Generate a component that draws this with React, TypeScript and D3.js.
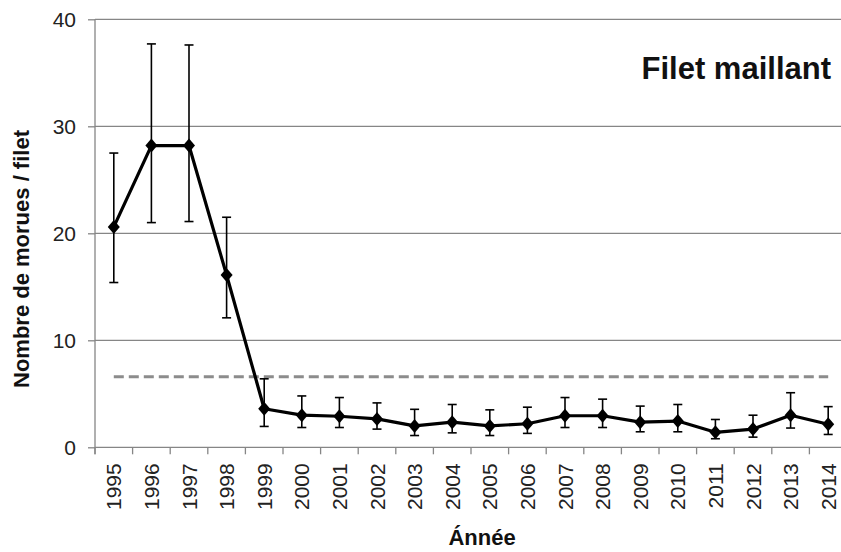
import React, { useEffect, useRef } from "react";
import * as d3 from "d3";

// année d'échantillonnage
const years = [
  "1995", "1996", "1997", "1998", "1999", "2000", "2001", "2002", "2003", "2004",
  "2005", "2006", "2007", "2008", "2009", "2010", "2011", "2012", "2013", "2014",
];
// moyenne de morues par filet
const means = [
  20.6, 28.2, 28.2, 16.1, 3.6, 3.0, 2.9, 2.65, 2.0, 2.35,
  2.0, 2.2, 2.95, 2.95, 2.35, 2.45, 1.4, 1.7, 3.0, 2.15,
];
// bornes des barres d'erreur
const upper = [
  27.5, 37.7, 37.6, 21.5, 6.4, 4.8, 4.65, 4.15, 3.55, 4.0,
  3.5, 3.75, 4.65, 4.5, 3.85, 4.0, 2.6, 3.0, 5.1, 3.8,
];
const lower = [
  15.4, 21.0, 21.1, 12.1, 1.95, 1.85, 1.85, 1.7, 1.1, 1.35,
  1.1, 1.3, 1.85, 1.85, 1.45, 1.45, 0.8, 0.95, 1.8, 1.2,
];
const yTicks = [0, 10, 20, 30, 40];
const reference = 6.6;

export default function App() {
  const ref = useRef<SVGSVGElement>(null);

  useEffect(() => {
    const svg = d3.select(ref.current);
    svg.selectAll("*").remove();

    const left = 95;
    const right = 847;
    const top = 19.3;
    const bottom = 447.3;
    const font = "'Liberation Sans', Arial, sans-serif";

    const x = d3.scaleBand().domain(years).range([left, right]).padding(0);
    const y = d3.scaleLinear().domain([0, 40]).range([bottom, top]);
    const cx = (yr: string) => (x(yr) as number) + x.bandwidth() / 2;

    // grille horizontale
    svg
      .append("g")
      .selectAll("line")
      .data(yTicks.filter(t => t > 0))
      .enter()
      .append("line")
      .attr("x1", left)
      .attr("x2", right)
      .attr("y1", d => y(d))
      .attr("y2", d => y(d))
      .attr("stroke", "#868686")
      .attr("stroke-width", 1.3);

    // axe Y
    const yAxis = svg
      .append("g")
      .attr("transform", `translate(${left},0)`)
      .call(
        d3.axisLeft(y).tickValues(yTicks).tickSize(7).tickPadding(12).tickFormat(d3.format("d"))
      );
    yAxis.select(".domain").attr("stroke", "#868686").attr("stroke-width", 1.3).attr("d", `M0,${top}V${bottom + 7}`);
    yAxis.selectAll(".tick line").attr("stroke", "#868686").attr("stroke-width", 1.3);
    yAxis
      .selectAll("text")
      .attr("font-family", font)
      .attr("font-size", 21)
      .attr("fill", "#222");

    // axe X : traits entre les années
    const xAxis = svg.append("g").attr("transform", `translate(0,${bottom})`);
    xAxis
      .append("line")
      .attr("x1", left)
      .attr("x2", right)
      .attr("stroke", "#868686")
      .attr("stroke-width", 1.3);
    xAxis
      .selectAll("line.tk")
      .data(years)
      .enter()
      .append("line")
      .attr("class", "tk")
      .attr("x1", d => x(d) as number)
      .attr("x2", d => x(d) as number)
      .attr("y1", 0)
      .attr("y2", 7)
      .attr("stroke", "#868686")
      .attr("stroke-width", 1.3);
    xAxis
      .selectAll("text")
      .data(years)
      .enter()
      .append("text")
      .attr("transform", d => `translate(${cx(d)},16) rotate(-90)`)
      .attr("text-anchor", "end")
      .attr("dy", "0.36em")
      .attr("font-family", font)
      .attr("font-size", 21)
      .attr("fill", "#222")
      .text(d => d);

    // ligne de référence pointillée
    svg
      .append("line")
      .attr("x1", cx(years[0]))
      .attr("x2", cx(years[years.length - 1]))
      .attr("y1", y(reference))
      .attr("y2", y(reference))
      .attr("stroke", "#8c8c8c")
      .attr("stroke-width", 3)
      .attr("stroke-dasharray", "10,5");

    // barres d'erreur
    const err = svg.append("g").attr("stroke", "#000").attr("stroke-width", 1.6);
    years.forEach((yr, i) => {
      const px = cx(yr);
      err.append("line").attr("x1", px).attr("x2", px).attr("y1", y(upper[i])).attr("y2", y(lower[i]));
      err.append("line").attr("x1", px - 4.5).attr("x2", px + 4.5).attr("y1", y(upper[i])).attr("y2", y(upper[i]));
      err.append("line").attr("x1", px - 4.5).attr("x2", px + 4.5).attr("y1", y(lower[i])).attr("y2", y(lower[i]));
    });

    // série
    const line = d3
      .line<number>()
      .x((_, i) => cx(years[i]))
      .y(d => y(d));
    svg
      .append("path")
      .datum(means)
      .attr("d", line)
      .attr("fill", "none")
      .attr("stroke", "#000")
      .attr("stroke-width", 3.2)
      .attr("stroke-linejoin", "round");

    svg
      .append("g")
      .selectAll("path")
      .data(means)
      .enter()
      .append("path")
      .attr("d", "M0,-7L6,0L0,7L-6,0Z")
      .attr("transform", (d, i) => `translate(${cx(years[i])},${y(d)})`)
      .attr("fill", "#000");

    // titres
    svg
      .append("text")
      .attr("x", 831)
      .attr("y", 79)
      .attr("text-anchor", "end")
      .attr("font-family", font)
      .attr("font-weight", "bold")
      .attr("font-size", 31)
      .attr("fill", "#111")
      .text("Filet maillant");

    svg
      .append("text")
      .attr("x", 482)
      .attr("y", 545)
      .attr("text-anchor", "middle")
      .attr("font-family", font)
      .attr("font-weight", "bold")
      .attr("font-size", 22)
      .attr("fill", "#111")
      .text("Ánnée");

    svg
      .append("text")
      .attr("transform", "translate(29,259) rotate(-90)")
      .attr("text-anchor", "middle")
      .attr("font-family", font)
      .attr("font-weight", "bold")
      .attr("font-size", 22)
      .attr("fill", "#111")
      .text("Nombre de morues / filet");
  }, []);

  return (
    <svg
      ref={ref}
      width={841}
      height={552}
      style={{ position: "absolute", left: 0, top: 0, background: "#fff" }}
    />
  );
}
